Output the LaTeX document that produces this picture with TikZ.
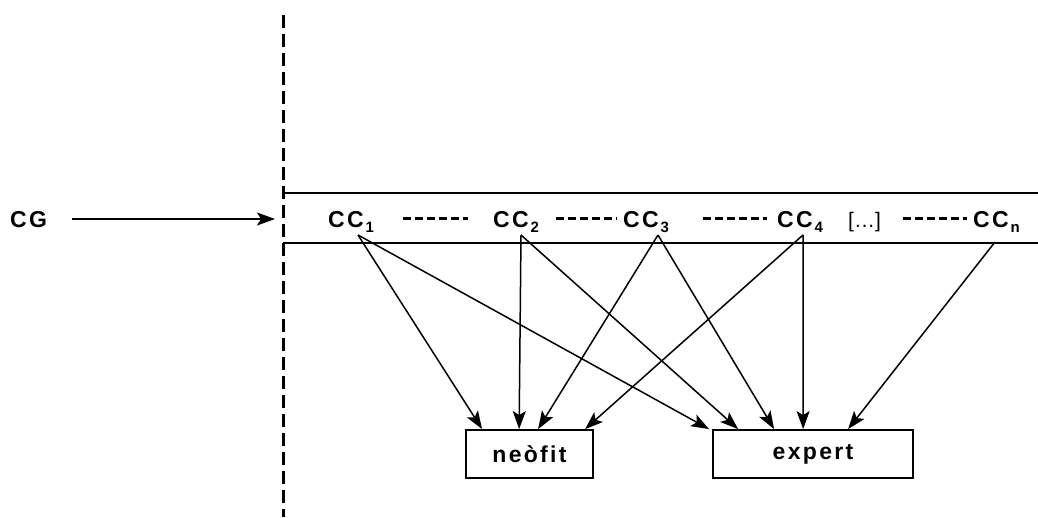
\documentclass[tikz,border=0pt]{standalone}
\usepackage{fontspec}
\usetikzlibrary{arrows.meta}
\newfontfamily\lblfont{Liberation Sans Bold}[LetterSpace=10]
\newfontfamily\subfont{Liberation Sans Bold}
\newfontfamily\plainfont{Liberation Sans}
\newcommand\ccsub[1]{\hspace{2pt}\raisebox{-5pt}{\subfont\fontsize{15}{15}\selectfont #1}}
\begin{document}
\begin{tikzpicture}[x=1pt,y=-1pt,
  lbl/.style={inner sep=0pt, anchor=base west, font=\lblfont\fontsize{23}{27}\selectfont},
  plainlbl/.style={inner sep=0pt, anchor=base west, font=\plainfont\fontsize{21}{25}\selectfont},
  profile/.style={draw, line width=1.8pt, minimum height=48pt, inner sep=0pt,
    font=\lblfont\fontsize{23}{27}\selectfont},
  arr/.style={line width=1.5pt, -{Stealth[length=18pt,width=13pt,inset=4pt]}},
  ccdash/.style={line width=3pt, dash pattern=on 8pt off 4pt},
  divider/.style={line width=3pt, dash pattern=on 13pt off 6pt},
  rail/.style={line width=1.8pt}]
\useasboundingbox (0,0) rectangle (1038,517);

% vertical divider and the rails of the sequence
\coordinate (divtop) at (283,15);
\coordinate (divbot) at (283,517);
\coordinate (railTL) at (283,193);
\coordinate (railTR) at (1038,193);
\coordinate (railBL) at (283,243);
\coordinate (railBR) at (1038,243);
\draw[divider] (divtop) -- (divbot);
\draw[rail] (railTL) -- (railTR);
\draw[rail] (railBL) -- (railBR);

% labels
\node[lbl] (cg) at (10,227) {CG};
\coordinate (cgin) at (275,219);
\draw[arr] ([shift={(62,-8)}]cg.base west) -- (cgin);

\node[lbl] (c1) at (328,227) {CC\ccsub{1}};
\node[lbl] (c2) at (493,227) {CC\ccsub{2}};
\node[lbl] (c3) at (623,227) {CC\ccsub{3}};
\node[lbl] (c4) at (777,227) {CC\ccsub{4}};
\node[plainlbl] (dots) at (848,227) {[…]};
\node[lbl] (cn) at (973,227) {CC\ccsub{n}};

% dashed links between the components
\draw[ccdash] ([shift={(75,-9)}]c1.base west) -- ([shift={(-25,-9)}]c2.base west);
\draw[ccdash] ([shift={(63,-9)}]c2.base west) -- ([shift={(-6,-9)}]c3.base west);
\draw[ccdash] ([shift={(80,-9)}]c3.base west) -- ([shift={(-10,-9)}]c4.base west);
\draw[ccdash] ([shift={(55,-9)}]dots.base west) -- ([shift={(-6,-9)}]cn.base west);

% target profiles
\node[profile, minimum width=127pt] (neo) at (529.5,454) {neòfit};
\node[profile, minimum width=200pt] (exp) at (813,454) {expert};

% sources just below each component
\coordinate (s1) at ([shift={(30,8)}]c1.base west);
\coordinate (s2) at ([shift={(28,8)}]c2.base west);
\coordinate (s3) at ([shift={(35,8)}]c3.base west);
\coordinate (s4) at ([shift={(26,8)}]c4.base west);
\coordinate (sn) at ([shift={(22,15)}]cn.base west);

\draw[arr] (s1) -- ([xshift=17pt]neo.north west);
\draw[arr] (s1) -- ([xshift=-3pt]exp.north west);
\draw[arr] (s2) -- ([xshift=54pt]neo.north west);
\draw[arr] (s2) -- ([xshift=26pt]exp.north west);
\draw[arr] (s3) -- ([xshift=73pt]neo.north west);
\draw[arr] (s3) -- ([xshift=62pt]exp.north west);
\draw[arr] (s4) -- ([xshift=120pt]neo.north west);
\draw[arr] (s4) -- ([xshift=91pt]exp.north west);
\draw[arr] (sn) -- ([xshift=136pt]exp.north west);
\end{tikzpicture}
\end{document}
